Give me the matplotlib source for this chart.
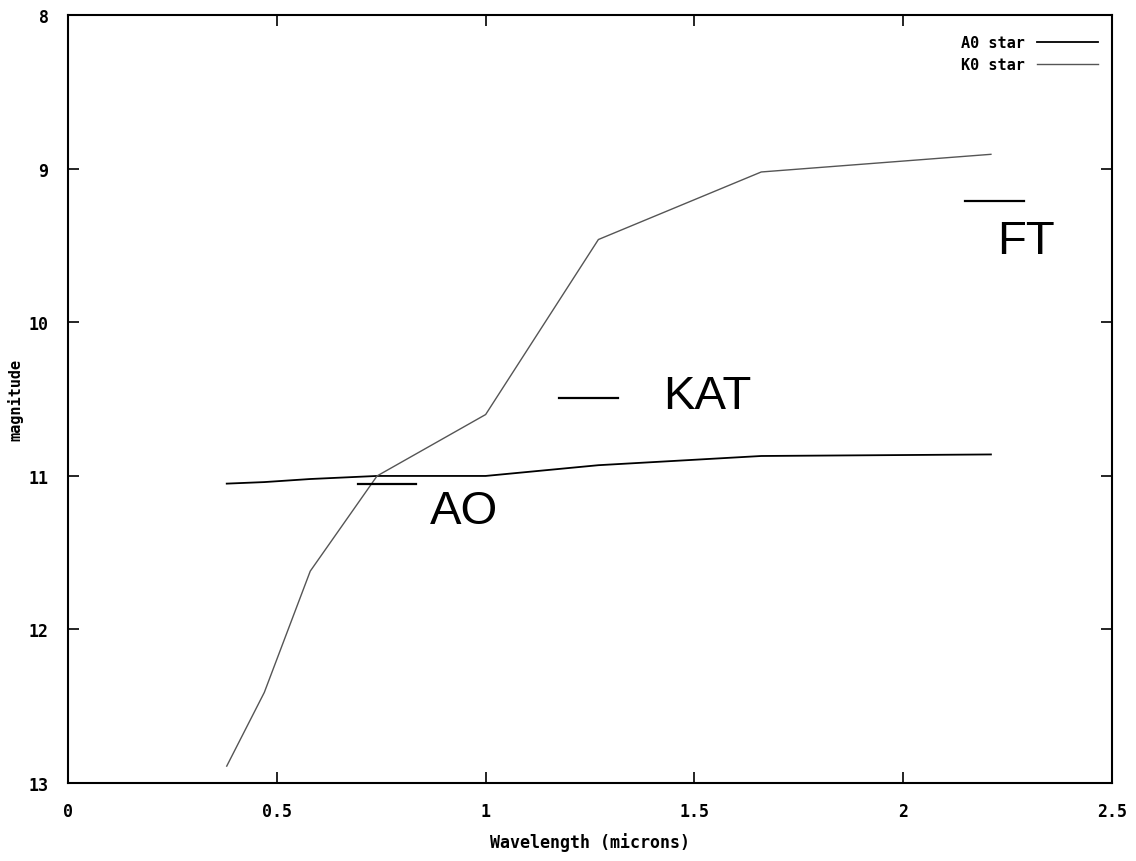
import matplotlib.pyplot as plt
import numpy as np

# wavelengths (microns) of the photometric points
wavelength = [0.38, 0.47, 0.58, 0.74, 1.00, 1.27, 1.66, 2.21]
# magnitudes
mag_a0 = [11.05, 11.04, 11.02, 11.00, 11.00, 10.93, 10.87, 10.86]
mag_k0 = [12.89, 12.41, 11.62, 11.00, 10.60, 9.46, 9.02, 8.905]

# instrument limits: name, x start, x end, magnitude, label x, label y
inst_names = ["AO", "KAT", "FT"]
inst_x0 = [0.694, 1.176, 2.148]
inst_x1 = [0.833, 1.317, 2.289]
inst_mag = [11.05, 10.49, 9.21]
label_x = [0.867, 1.425, 2.225]
label_y = [11.23, 10.48, 9.47]

mono = {"family": "DejaVu Sans Mono", "weight": "bold"}

fig = plt.figure(figsize=(11.36, 8.62), dpi=100)
ax = fig.add_axes([0.0599, 0.0905, 0.9190, 0.8905])

ax.plot(wavelength, mag_a0, color="black", lw=1.3, label="A0 star")
ax.plot(wavelength, mag_k0, color="#555555", lw=1.0, label="K0 star")

for i in range(len(inst_names)):
    ax.plot([inst_x0[i], inst_x1[i]], [inst_mag[i], inst_mag[i]], color="black", lw=1.6)
    ax.text(label_x[i], label_y[i], inst_names[i], fontsize=34, va="center", ha="left",
            family="Liberation Sans")

ax.set_xlim(0, 2.5)
ax.set_ylim(13, 8)
ax.set_xticks([0, 0.5, 1, 1.5, 2, 2.5])
ax.set_xticklabels(["0", "0.5", "1", "1.5", "2", "2.5"])
ax.set_yticks([8, 9, 10, 11, 12, 13])
ax.tick_params(direction="in", top=True, right=True, length=8, width=1.2, labelsize=12)
ax.tick_params(axis="x", pad=14)
ax.tick_params(axis="y", pad=14)
for lab in ax.get_xticklabels() + ax.get_yticklabels():
    lab.set_fontfamily(mono["family"])
    lab.set_fontweight(mono["weight"])
for s in ax.spines.values():
    s.set_linewidth(1.5)

ax.set_xlabel("Wavelength (microns)", fontsize=12, labelpad=8, **mono)
ax.set_ylabel("magnitude", fontsize=11, labelpad=4, **mono)

leg = ax.legend(loc="upper right", frameon=False, markerfirst=False,
                prop={"family": "DejaVu Sans Mono", "weight": "bold", "size": 11},
                handlelength=4, borderaxespad=0.9, labelspacing=0.45,
                bbox_to_anchor=(1.006, 1.0))

fig.savefig("out.png", dpi=100)
